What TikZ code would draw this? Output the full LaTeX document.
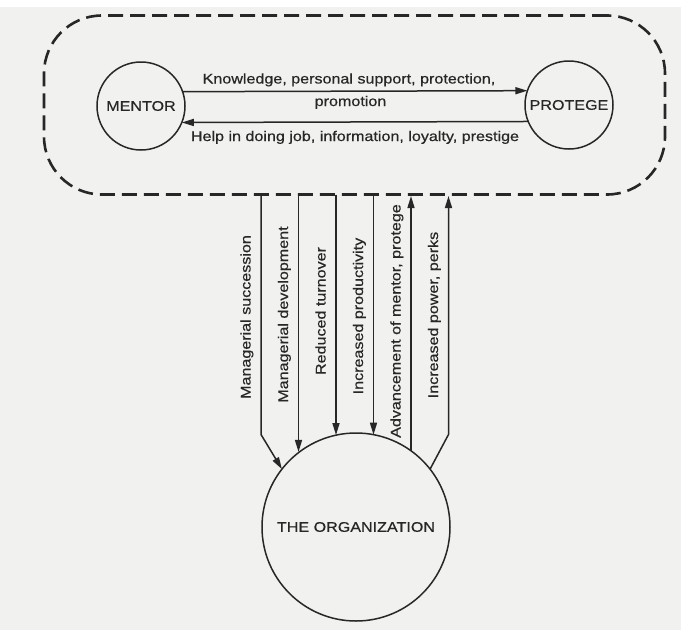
\documentclass[tikz,border=0pt]{standalone}
\usepackage{fontspec}
\setmainfont{Liberation Sans}[FakeStretch=1.15,FakeBold=0.5]
\usetikzlibrary{arrows.meta,calc}
\definecolor{ink}{HTML}{272727}
\definecolor{paper}{HTML}{F1F1EF}
\begin{document}
\begin{tikzpicture}[x=1pt,y=-1pt,
  flow/.style={draw=ink, line width=1.5pt, -{Triangle[length=12pt,width=7pt]}},
  party/.style={circle, draw=ink, line width=1.5pt, minimum size=88pt,
    inner sep=0pt, outer sep=0pt, font=\fontsize{14}{16}\selectfont, text=ink},
  lbl/.style={font=\fontsize{14}{16}\selectfont, text=ink, inner sep=0pt},
  vlbl/.style={lbl, rotate=90, anchor=base},
]
\useasboundingbox (0,0) rectangle (686,630);
\fill[white] (0,0) rectangle (686,630);
\fill[paper] (0,7) rectangle (681,630);

% dashed boundary around mentor and protege
\node[draw=ink, line width=2.6pt, dash pattern=on 15pt off 7pt,
  rounded corners=58pt, minimum width=621pt, minimum height=179pt,
  inner sep=0pt, outer sep=0pt] (pair) at (354.5,105) {};

% the three parties
\node[party] (mentor) at (141,106) {MENTOR};
\node[party] (protege) at (569,105) {PROTEGE};
\node[party, minimum size=188pt] (org) at (356,527) {THE ORGANIZATION};

% exchanges between mentor and protege
\draw[flow] (mentor.19.9) -- (protege.161.45);
\draw[flow] (protege.202.7) -- (mentor.338.7);
\node[lbl, anchor=base] (give1) at (349,83.5) {Knowledge, personal support, protection,};
\node[lbl, anchor=base] (give2) at (350.5,106) {promotion};
\node[lbl, anchor=base] (back) at (355,141) {Help in doing job, information, loyalty, prestige};

% attachment points on the lower edge of the boundary
\foreach \i/\x in {1/261,2/298.5,3/336,4/373.5,5/411,6/448.5}{
  \coordinate (x\i) at (\x,0);
  \coordinate (t\i) at (pair.south -| x\i);
}

% flows between the pair and the organization
\draw[flow] (t1) -- ($(t1)+(0,240)$) -- (org.142.2);
\draw[flow] (t2) -- (t2 |- org.127.7);
\draw[flow] (t3) -- (t3 |- org.102.3);
\draw[flow] (t4) -- (t4 |- org.79.3);
\draw[flow, shorten >=1.5pt] (t5 |- org.54.2) -- (t5);
\draw[flow, shorten >=1.5pt] (org.38.6) -- ($(t6)+(0,240)$) -- (t6);

\node[vlbl] (l1) at (250.5,317) {Managerial succession};
\node[vlbl] (l2) at (288,314.5) {Managerial development};
\node[vlbl] (l3) at (325.5,311) {Reduced turnover};
\node[vlbl] (l4) at (363,316) {Increased productivity};
\node[vlbl] (l5) at (400.5,321) {Advancement of mentor, protege};
\node[vlbl] (l6) at (438,315) {Increased power, perks};
\end{tikzpicture}
\end{document}
